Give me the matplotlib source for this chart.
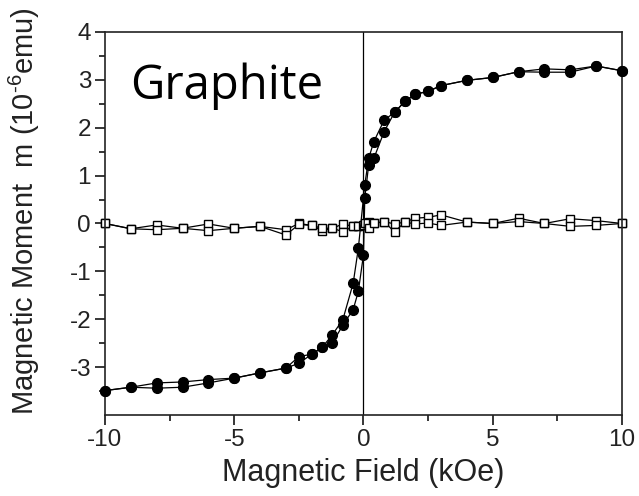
import matplotlib
matplotlib.use('Agg')
import matplotlib.pyplot as plt
from matplotlib.ticker import MultipleLocator

plt.rcParams['font.family'] = ['Liberation Sans', 'DejaVu Sans']
plt.rcParams['mathtext.fontset'] = 'custom'
plt.rcParams['mathtext.rm'] = 'Liberation Sans'
plt.rcParams['mathtext.it'] = 'Liberation Sans'

# field grid, sweeping down from +10 kOe to -10 kOe
field_down = [10, 9, 8, 7, 6, 5, 4, 3, 2.5, 2, 1.6, 1.2, 0.8, 0.4, 0.2, 0.05,
              -0.2, -0.4, -0.8, -1.2, -1.6, -2, -2.5, -3, -4, -5, -6, -7, -8, -9, -10]
# and back up from -10 to +10
field_up = [-10, -9, -8, -7, -6, -5, -4, -3, -2.5, -2, -1.6, -1.2, -0.8, -0.4, -0.2, 0.0,
            0.05, 0.2, 0.4, 0.8, 1.2, 1.6, 2, 2.5, 3, 4, 5, 6, 7, 8, 9, 10]

# filled circles (graphite)
m_down = [3.19, 3.29, 3.21, 3.23, 3.17, 3.05, 2.99, 2.88, 2.76, 2.70, 2.55, 2.32, 2.16, 1.71, 1.36, 0.81,
          -0.52, -1.25, -2.01, -2.32, -2.59, -2.73, -2.78, -3.02, -3.12, -3.23, -3.26, -3.31, -3.33, -3.42, -3.49]
m_up = [-3.49, -3.42, -3.44, -3.42, -3.33, -3.23, -3.12, -3.02, -2.92, -2.73, -2.59, -2.50, -2.12, -1.80, -1.42, -0.65,
        0.53, 1.22, 1.36, 1.92, 2.32, 2.55, 2.70, 2.76, 2.88, 2.99, 3.05, 3.17, 3.16, 3.16, 3.29, 3.19]

# open squares (reference)
sq_down = [0.0, 0.06, 0.10, 0.0, 0.11, 0.0, 0.03, 0.18, 0.13, 0.11, 0.03, -0.01, 0.04, 0.0, 0.04, -0.03,
           -0.06, -0.06, -0.01, -0.10, -0.15, -0.04, 0.0, -0.13, -0.06, -0.10, -0.01, -0.10, -0.03, -0.11, 0.0]
sq_up = [0.0, -0.11, -0.13, -0.10, -0.15, -0.10, -0.06, -0.24, -0.02, -0.04, -0.10, -0.10, -0.17, -0.06, -0.06, -0.04,
         0.0, -0.10, 0.0, 0.04, -0.18, 0.03, -0.01, 0.01, -0.04, 0.03, 0.0, 0.04, 0.0, -0.06, -0.04, 0.0]

fig = plt.figure(figsize=(6.39, 4.96), dpi=100)
ax = fig.add_axes([0.1643, 0.1633, 0.8091, 0.7722])

ax.axvline(0, color='black', lw=0.9, zorder=1)

for fx, fy in [(field_down, sq_down), (field_up, sq_up)]:
    ax.plot(fx, fy, '-', color='black', lw=0.9, marker='s', ms=5.5,
            mfc='white', mec='black', mew=1.0, zorder=2, clip_on=False)

for fx, fy in [(field_down, m_down), (field_up, m_up)]:
    ax.plot(fx, fy, '-', color='black', lw=0.9, marker='o', ms=7,
            mfc='black', mec='black', zorder=3, clip_on=False)

ax.set_xlim(-10, 10)
ax.set_ylim(-4, 4)
ax.set_xticks([-10, -5, 0, 5, 10])
ax.set_xticklabels(['-10', '-5', '0', '5', '10'])
ax.xaxis.set_minor_locator(MultipleLocator(2.5))
ax.set_yticks([-3, -2, -1, 0, 1, 2, 3, 4])
ax.set_yticklabels(['-3', '-2', '-1', '0', '1', '2', '3', '4'])
ax.set_yticks([-3.5, -2.5, -1.5, -0.5, 0.5, 1.5, 2.5, 3.5], minor=True)

ax.tick_params(which='major', direction='out', length=7, width=1.1, labelsize=17.5,
               labelcolor='#222222', pad=3)
ax.tick_params(which='minor', direction='out', length=4.3, width=1.1)
for s in ax.spines.values():
    s.set_linewidth(1.2)
    s.set_color('#222222')

ax.set_xlabel('Magnetic Field (kOe)', fontsize=22, color='#222222', labelpad=5)
ax.set_ylabel(r'Magnetic Moment  m (10$^{\text{-}6}$emu)', fontsize=21, color='#222222')
ax.yaxis.set_label_coords(-0.122, 0.533)

ax.text(-9.03, 2.59, 'Graphite', family='Open Sans', fontsize=34, va='baseline', ha='left')

fig.savefig('out.png', dpi=100)
